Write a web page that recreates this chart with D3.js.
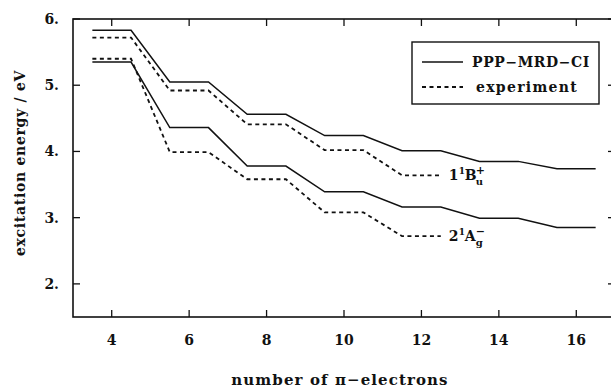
<!DOCTYPE html>
<html>
<head>
<meta charset="utf-8">
<script src="https://cdn.jsdelivr.net/npm/d3@7"></script>
<style>
  body { margin: 0; background: #fff; }
  text { font-family: "DejaVu Serif", serif; font-weight: bold; fill: #111; }
</style>
</head>
<body>
<svg id="chart" width="611" height="389"></svg>
<script>
// number of pi-electrons
var electrons = [4, 6, 8, 10, 12, 14, 16]
var electronsExp = [4, 6, 8, 10, 12]

// 1Bu+ state
var buTheory = [5.83, 5.05, 4.56, 4.24, 4.01, 3.85, 3.74]
var buExp = [5.72, 4.92, 4.41, 4.02, 3.64]

// 2Ag- state
var agTheory = [5.35, 4.36, 3.78, 3.39, 3.16, 2.99, 2.85]
var agExp = [5.40, 3.99, 3.58, 3.08, 2.72]

var xTicks = [4, 6, 8, 10, 12, 14, 16]
var yTicks = [2, 3, 4, 5, 6]

var svg = d3.select('#chart')
var plotLeft = 73, plotRight = 615, plotTop = 19, plotBottom = 317

var x = d3.scaleLinear().domain([3, 17]).range([plotLeft, plotRight])
var y = d3.scaleLinear().domain([1.5, 6]).range([plotBottom, plotTop])

// step shaped curve: flat level from N-0.5 to N+0.5, slanted link to next N
function steps(ns, vals) {
	var pts = []
	ns.forEach(function(n, i) {
		pts.push([n - 0.5, vals[i]])
		pts.push([n + 0.5, vals[i]])
	})
	return pts
}

var line = d3.line()
	.x(function(d) { return x(d[0]) })
	.y(function(d) { return y(d[1]) })

var curves = [
	{ pts: steps(electrons, buTheory), dash: null },
	{ pts: steps(electronsExp, buExp), dash: '4,3.5' },
	{ pts: steps(electrons, agTheory), dash: null },
	{ pts: steps(electronsExp, agExp), dash: '4,3.5' }
]

svg.selectAll('.curve').data(curves)
  .enter()
	.append('path')
	.attr('class', 'curve')
	.attr('d', function(d) { return line(d.pts) })
	.attr('fill', 'none')
	.attr('stroke', '#111')
	.attr('stroke-width', function(d) { return d.dash ? 1.8 : 1.5 })
	.attr('stroke-dasharray', function(d) { return d.dash })

// frame
svg.append('rect')
	.attr('x', plotLeft).attr('y', plotTop)
	.attr('width', plotRight - plotLeft).attr('height', plotBottom - plotTop)
	.attr('fill', 'none').attr('stroke', '#111').attr('stroke-width', 1.6)

// inward ticks on all sides
var tickLen = 7
xTicks.forEach(function(t) {
	svg.append('line').attr('x1', x(t)).attr('x2', x(t))
		.attr('y1', plotBottom).attr('y2', plotBottom - tickLen)
		.attr('stroke', '#111').attr('stroke-width', 1.3)
	svg.append('line').attr('x1', x(t)).attr('x2', x(t))
		.attr('y1', plotTop).attr('y2', plotTop + tickLen)
		.attr('stroke', '#111').attr('stroke-width', 1.3)
	svg.append('text').attr('x', x(t)).attr('y', plotBottom + 28)
		.attr('text-anchor', 'middle').attr('font-size', 14)
		.text(t)
})
yTicks.forEach(function(t) {
	svg.append('line').attr('x1', plotLeft).attr('x2', plotLeft + tickLen)
		.attr('y1', y(t)).attr('y2', y(t))
		.attr('stroke', '#111').attr('stroke-width', 1.3)
	svg.append('line').attr('x1', plotRight).attr('x2', plotRight - tickLen)
		.attr('y1', y(t)).attr('y2', y(t))
		.attr('stroke', '#111').attr('stroke-width', 1.3)
	svg.append('text').attr('x', plotLeft - 14).attr('y', y(t) + 5)
		.attr('text-anchor', 'end').attr('font-size', 14)
		.text(t + '.')
})

// axis titles
svg.append('text')
	.attr('transform', 'translate(25,163) rotate(-90)')
	.attr('text-anchor', 'middle').attr('font-size', 14)
	.attr('letter-spacing', 0.7)
	.text('excitation energy / eV')

svg.append('text')
	.attr('x', 340).attr('y', 385)
	.attr('text-anchor', 'middle').attr('font-size', 15)
	.attr('letter-spacing', 1.1)
	.text('number of \u03c0\u2212electrons')

// legend
var lg = svg.append('g')
lg.append('rect').attr('x', 412).attr('y', 42).attr('width', 187).attr('height', 62)
	.attr('fill', '#fff').attr('stroke', '#111').attr('stroke-width', 1.4)
lg.append('line').attr('x1', 422).attr('x2', 463).attr('y1', 62).attr('y2', 62)
	.attr('stroke', '#111').attr('stroke-width', 1.5)
lg.append('line').attr('x1', 422).attr('x2', 463).attr('y1', 87).attr('y2', 87)
	.attr('stroke', '#111').attr('stroke-width', 1.8).attr('stroke-dasharray', '4,3.5')
lg.append('text').attr('x', 472).attr('y', 67).attr('font-size', 14)
	.attr('letter-spacing', 0.6).text('PPP\u2212MRD\u2212CI')
lg.append('text').attr('x', 476).attr('y', 92).attr('font-size', 14)
	.attr('letter-spacing', 1.3).text('experiment')

// state labels: level digit, superscript multiplicity, letter, stacked sub/sup
function stateLabel(px, py, level, letter, sub, sup) {
	var g = svg.append('g').attr('transform', 'translate(' + px + ',' + py + ')')
	g.append('text').attr('x', 0).attr('y', 0).attr('font-size', 14).text(level)
	g.append('text').attr('x', 10).attr('y', -6).attr('font-size', 9).text('1')
	g.append('text').attr('x', 16).attr('y', 0).attr('font-size', 14).text(letter)
	g.append('text').attr('x', 27).attr('y', 5).attr('font-size', 10).text(sub)
	g.append('text').attr('x', 27).attr('y', -6).attr('font-size', 11).text(sup)
}
stateLabel(x(12.5) + 8, y(buExp[4]) + 5, '1', 'B', 'u', '+')
stateLabel(x(12.5) + 8, y(agExp[4]) + 5, '2', 'A', 'g', '\u2212')
</script>
</body>
</html>
